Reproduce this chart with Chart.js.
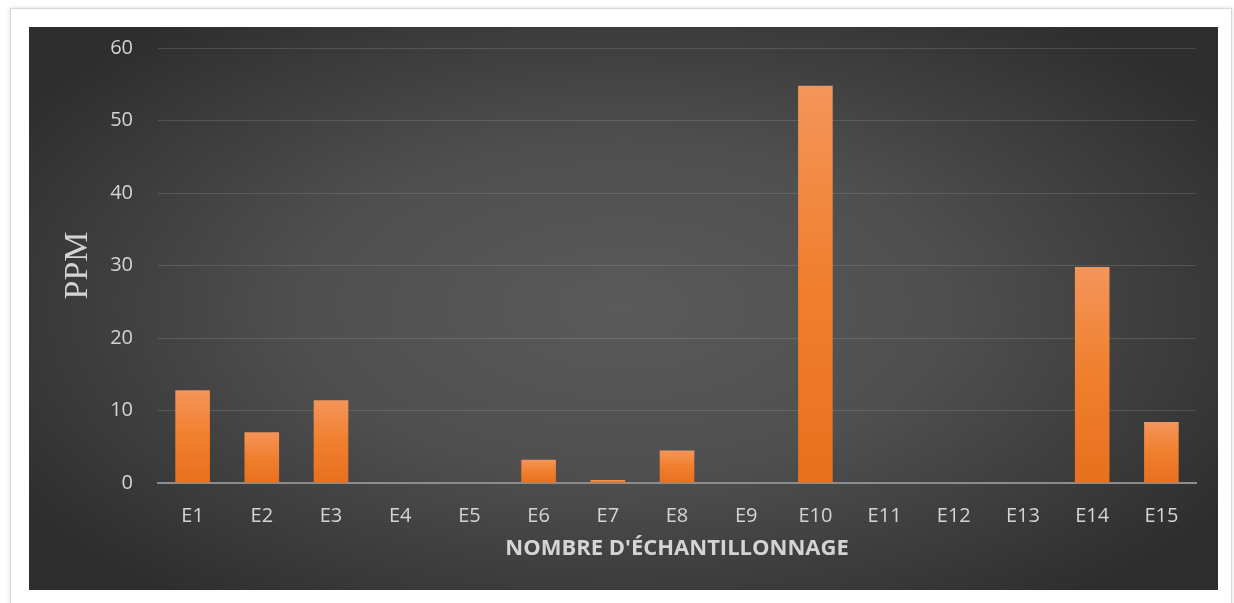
<!DOCTYPE html>
<html>
<head>
<meta charset="utf-8">
<script src="https://cdn.jsdelivr.net/npm/chart.js@4.4.1/dist/chart.umd.min.js"></script>
<style>
    html, body {
        margin: 0;
        padding: 0;
        background: #ffffff;
        width: 1234px;
        height: 603px;
        overflow: hidden;
    }

    .frame {
        position: absolute;
        left: 10px;
        top: 8px;
        width: 1220px;
        height: 610px;
        border: 1px solid #d8d8d8;
        box-shadow: 0 0 4px rgba(0, 0, 0, 0.15);
        background: #ffffff;
    }

    .panel {
        position: absolute;
        left: 29px;
        top: 27px;
        width: 1189px;
        height: 563px;
        overflow: hidden;
        background: radial-gradient(ellipse 60% 65% at 50% 50%, #5a5a5a 0%, #4f4f4f 45%, #2e2e2e 100%);
    }

    #ppmChart {
        display: block;
        position: absolute;
        left: 0;
        top: -16px;
    }
</style>
</head>
<body>
<div class="frame"></div>
<div class="panel">
    <canvas id="ppmChart" width="1189" height="579"></canvas>
</div>

<script>
    const categories = ["E1", "E2", "E3", "E4", "E5", "E6", "E7", "E8", "E9", "E10", "E11", "E12", "E13", "E14", "E15"];
    const ppmValues = [12.8, 7.0, 11.4, 0, 0, 3.2, 0.4, 4.5, 0, 54.8, 0, 0, 0, 29.8, 8.4];
    const yTicks = [0, 10, 20, 30, 40, 50, 60];

    // each bar gets its own light-to-dark orange fade
    function barFill(context) {
        const chart = context.chart;
        const yScale = chart.scales.y;
        if (!chart.chartArea || !yScale) {
            return "#ed7d31";
        }
        const value = context.raw || 0;
        const top = yScale.getPixelForValue(value);
        const base = yScale.getPixelForValue(0);
        if (base - top < 1) {
            return "#f08a42";
        }
        const grad = chart.ctx.createLinearGradient(0, top, 0, base);
        grad.addColorStop(0, "#f4955a");
        grad.addColorStop(0.5, "#f07f2e");
        grad.addColorStop(1, "#e8701e");
        return grad;
    }

    new Chart(document.getElementById("ppmChart").getContext("2d"), {
        type: "bar",

        data: {
            labels: categories,

            datasets: [
                {
                    label: "PPM",

                    data: ppmValues,

                    backgroundColor: barFill,

                    borderWidth: 0,

                    categoryPercentage: 1.0,

                    barPercentage: 0.5,
                },
            ],
        },

        options: {
            responsive: false,

            animation: false,

            layout: {
                padding: { left: 25, right: 22, top: 0, bottom: 24 },
            },

            scales: {
                x: {
                    afterFit: (scale) => {
                        scale.height = 83;
                    },

                    grid: { display: false },

                    border: { color: "#8c8c8c", width: 2 },

                    ticks: {
                        color: "#d4d4d4",
                        font: { family: "'Open Sans', sans-serif", size: 20 },
                        padding: 13,
                        maxRotation: 0,
                        minRotation: 0,
                        autoSkip: false,
                    },

                    title: {
                        display: true,
                        text: "NOMBRE D'ÉCHANTILLONNAGE",
                        color: "#d4d4d4",
                        font: { family: "'Open Sans', sans-serif", size: 22, weight: "bold" },
                        padding: { top: 12, bottom: 4 },
                    },
                },

                y: {
                    afterFit: (scale) => {
                        scale.width = 104;
                    },

                    min: 0,

                    max: 60,

                    afterBuildTicks: (scale) => {
                        scale.ticks = yTicks.map((v) => ({ value: v }));
                    },

                    grid: {
                        color: "rgba(255, 255, 255, 0.13)",
                        lineWidth: 1,
                        drawTicks: false,
                    },

                    border: { display: false },

                    ticks: {
                        color: "#d4d4d4",
                        font: { family: "'Open Sans', sans-serif", size: 20 },
                        padding: 25,
                    },

                    title: {
                        display: true,
                        text: "PPM",
                        color: "#d4d4d4",
                        font: { family: "'Liberation Serif', 'Times New Roman', serif", size: 34 },
                        padding: { top: 4, bottom: 13 },
                    },
                },
            },

            plugins: {
                legend: { display: false },

                tooltip: { enabled: false },
            },
        },
    });
</script>
</body>
</html>
